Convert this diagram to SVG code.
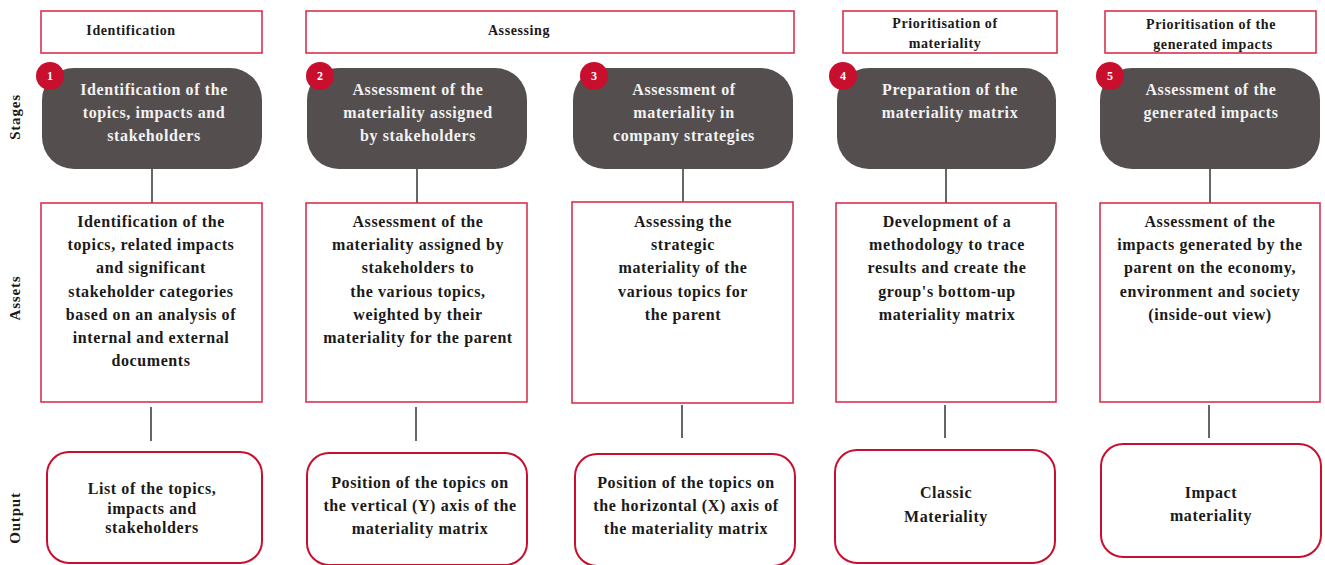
<svg xmlns="http://www.w3.org/2000/svg" width="1325" height="565" viewBox="0 0 1325 565">
<style>
text{font-family:"Liberation Serif","Times New Roman",serif;font-weight:bold;text-anchor:middle}
.hdr{fill:#fff;stroke:#d8324f;stroke-width:1.6}
.hdr-t{font-size:14px;fill:#1a1a1a;letter-spacing:0.6px}
.stage{fill:#554e4f}
.stage-t{font-size:16px;fill:#f2f2f2;letter-spacing:0.6px}
.num{fill:#c8102e}
.num-t{font-size:12px;fill:#fff}
.asset{fill:#fff;stroke:#d8324f;stroke-width:1.6}
.asset-t{font-size:16px;fill:#1a1a1a;letter-spacing:0.6px}
.out{fill:#fff;stroke:#c8102e;stroke-width:2}
.out-t{font-size:16px;fill:#1a1a1a;letter-spacing:0.6px}
.side{font-size:15px;fill:#1a1a1a;letter-spacing:0.8px}
.conn line{stroke:#333;stroke-width:1.5}
</style>

<g id="side-labels">
<text class="side" transform="translate(20,117) rotate(-90)">Stages</text>
<text class="side" transform="translate(20,298) rotate(-90)">Assets</text>
<text class="side" transform="translate(20,518) rotate(-90)">Output</text>
</g>

<g id="headers">
<g id="hdr-identification"><rect class="hdr" x="41" y="11" width="221" height="42"/><text class="hdr-t" x="131" y="35">Identification</text></g>
<g id="hdr-assessing"><rect class="hdr" x="306" y="11" width="488" height="42"/><text class="hdr-t" x="519" y="35">Assessing</text></g>
<g id="hdr-prio-mat"><rect class="hdr" x="843" y="11" width="214" height="42"/><text class="hdr-t" x="945" y="28">Prioritisation of</text><text class="hdr-t" x="945" y="48">materiality</text></g>
<g id="hdr-prio-imp"><rect class="hdr" x="1105" y="11" width="211" height="42"/><text class="hdr-t" x="1211" y="29">Prioritisation of the</text><text class="hdr-t" x="1213" y="49">generated impacts</text></g>
</g>

<g id="connectors" class="conn">
<line x1="152" y1="169" x2="152" y2="203"/>
<line x1="417" y1="169" x2="417" y2="203"/>
<line x1="683" y1="169" x2="683" y2="202"/>
<line x1="946" y1="169" x2="946" y2="203"/>
<line x1="1210" y1="169" x2="1210" y2="203"/>
<line x1="151" y1="407" x2="151" y2="441"/>
<line x1="416" y1="407" x2="416" y2="441"/>
<line x1="682" y1="405" x2="682" y2="438"/>
<line x1="945" y1="405" x2="945" y2="438"/>
<line x1="1209" y1="405" x2="1209" y2="438"/>
</g>

<g id="stage1"><rect class="stage" x="42" y="68" width="220" height="101" rx="32"/><circle class="num" cx="50" cy="76" r="14"/><text class="num-t" x="50" y="80">1</text>
<text class="stage-t" x="154" y="95">Identification of the</text><text class="stage-t" x="154" y="118">topics, impacts and</text><text class="stage-t" x="154" y="141">stakeholders</text></g>
<g id="stage2"><rect class="stage" x="307" y="68" width="220" height="101" rx="32"/><circle class="num" cx="320" cy="76" r="14"/><text class="num-t" x="320" y="80">2</text>
<text class="stage-t" x="418" y="95">Assessment of the</text><text class="stage-t" x="418" y="118">materiality assigned</text><text class="stage-t" x="418" y="141">by stakeholders</text></g>
<g id="stage3"><rect class="stage" x="573" y="68" width="220" height="101" rx="32"/><circle class="num" cx="594" cy="76" r="14"/><text class="num-t" x="594" y="80">3</text>
<text class="stage-t" x="684" y="95">Assessment of</text><text class="stage-t" x="684" y="118">materiality in</text><text class="stage-t" x="684" y="141">company strategies</text></g>
<g id="stage4"><rect class="stage" x="837" y="68" width="219" height="101" rx="32"/><circle class="num" cx="843" cy="76" r="14"/><text class="num-t" x="843" y="80">4</text>
<text class="stage-t" x="950" y="95">Preparation of the</text><text class="stage-t" x="950" y="118">materiality matrix</text></g>
<g id="stage5"><rect class="stage" x="1100" y="68" width="220" height="101" rx="32"/><circle class="num" cx="1110" cy="76" r="14"/><text class="num-t" x="1110" y="80">5</text>
<text class="stage-t" x="1211" y="95">Assessment of the</text><text class="stage-t" x="1211" y="118">generated impacts</text></g>

<g id="asset1"><rect class="asset" x="41" y="203" width="221" height="199"/>
<text class="asset-t" x="151" y="227">Identification of the</text><text class="asset-t" x="151" y="250">topics, related impacts</text><text class="asset-t" x="151" y="273">and significant</text><text class="asset-t" x="151" y="297">stakeholder categories</text><text class="asset-t" x="151" y="320">based on an analysis of</text><text class="asset-t" x="151" y="343">internal and external</text><text class="asset-t" x="151" y="366">documents</text></g>
<g id="asset2"><rect class="asset" x="306" y="203" width="221" height="199"/>
<text class="asset-t" x="418" y="227">Assessment of the</text><text class="asset-t" x="418" y="250">materiality assigned by</text><text class="asset-t" x="418" y="273">stakeholders to</text><text class="asset-t" x="418" y="297">the various topics,</text><text class="asset-t" x="418" y="320">weighted by their</text><text class="asset-t" x="418" y="343">materiality for the parent</text></g>
<g id="asset3"><rect class="asset" x="572" y="202" width="221" height="201"/>
<text class="asset-t" x="683" y="227">Assessing the</text><text class="asset-t" x="683" y="250">strategic</text><text class="asset-t" x="683" y="273">materiality of the</text><text class="asset-t" x="683" y="297">various topics for</text><text class="asset-t" x="683" y="320">the parent</text></g>
<g id="asset4"><rect class="asset" x="836" y="203" width="220" height="199"/>
<text class="asset-t" x="947" y="227">Development of a</text><text class="asset-t" x="947" y="250">methodology to trace</text><text class="asset-t" x="947" y="273">results and create the</text><text class="asset-t" x="947" y="297">group's bottom-up</text><text class="asset-t" x="947" y="320">materiality matrix</text></g>
<g id="asset5"><rect class="asset" x="1100" y="203" width="220" height="199"/>
<text class="asset-t" x="1210" y="227">Assessment of the</text><text class="asset-t" x="1210" y="250">impacts generated by the</text><text class="asset-t" x="1210" y="273">parent on the economy,</text><text class="asset-t" x="1210" y="297">environment and society</text><text class="asset-t" x="1210" y="320">(inside-out view)</text></g>

<g id="output1"><rect class="out" x="47" y="452" width="215" height="111" rx="22"/>
<text class="out-t" x="152" y="494">List of the topics,</text><text class="out-t" x="152" y="514">impacts and</text><text class="out-t" x="152" y="533">stakeholders</text></g>
<g id="output2"><rect class="out" x="307" y="453" width="220" height="112" rx="22"/>
<text class="out-t" x="420" y="488">Position of the topics on</text><text class="out-t" x="420" y="511">the vertical (Y) axis of the</text><text class="out-t" x="420" y="534">materiality matrix</text></g>
<g id="output3"><rect class="out" x="575" y="454" width="220" height="112" rx="22"/>
<text class="out-t" x="686" y="488">Position of the topics on</text><text class="out-t" x="686" y="511">the horizontal (X) axis of</text><text class="out-t" x="686" y="534">the materiality matrix</text></g>
<g id="output4"><rect class="out" x="835" y="450" width="220" height="113" rx="22"/>
<text class="out-t" x="946" y="498">Classic</text><text class="out-t" x="946" y="522">Materiality</text></g>
<g id="output5"><rect class="out" x="1101" y="444" width="220" height="113" rx="22"/>
<text class="out-t" x="1211" y="498">Impact</text><text class="out-t" x="1211" y="521">materiality</text></g>
</svg>
